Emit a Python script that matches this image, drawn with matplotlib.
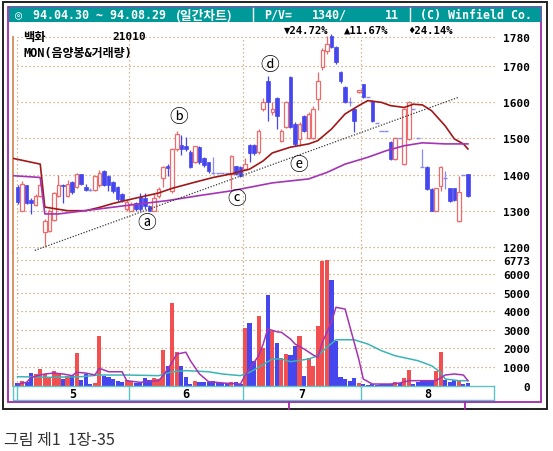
import matplotlib
matplotlib.use("Agg")
import matplotlib.pyplot as plt
from matplotlib.patches import Rectangle
from matplotlib.lines import Line2D

# ---------------- data ----------------
opens = [1366, 1300, 1370, 1330, 1315, 1342, 1241, 1244, 1275, 1341,
         1372, 1341, 1379, 1366, 1401, 1365, 1358, 1358, 1370, 1410,
         1395, 1380, 1365, 1345, 1305, 1300, 1320, 1338, 1335, 1312,
         1300, 1340, 1390, 1425, 1354, 1470, 1482, 1478, 1462, 1436,
         1476, 1445, 1434, 1405, 1405, 1405, 1405, 1401, 1423, 1421,
         1415, 1481, 1481, 1462, 1581, 1659, 1573, 1612, 1493, 1532,
         1670, 1540, 1498, 1562, 1501, 1501, 1609, 1698, 1742, 1784,
         1753, 1684, 1642, 1600, 1582, 1628, 1650, 1614, 1604, 1543,
         1521, 1521, 1490, 1443, 1501, 1429, 1498, 1582, 1501, 1420,
         1421, 1360, 1300, 1368, 1390, 1362, 1362, 1271, 1400, 1401]
highs = [1372, 1382, 1372, 1334, 1345, 1380, 1278, 1305, 1352, 1400,
         1374, 1385, 1382, 1404, 1403, 1375, 1362, 1400, 1412, 1412,
         1398, 1382, 1368, 1350, 1330, 1325, 1325, 1350, 1350, 1315,
         1345, 1365, 1425, 1430, 1475, 1520, 1510, 1505, 1468, 1480,
         1480, 1448, 1436, 1450, 1405, 1405, 1405, 1455, 1425, 1425,
         1445, 1485, 1484, 1525, 1612, 1673, 1600, 1615, 1525, 1605,
         1672, 1545, 1545, 1566, 1572, 1590, 1684, 1750, 1784, 1790,
         1755, 1686, 1645, 1615, 1585, 1635, 1652, 1614, 1606, 1543,
         1521, 1521, 1492, 1503, 1501, 1584, 1603, 1582, 1501, 1470,
         1423, 1362, 1364, 1425, 1410, 1364, 1364, 1396, 1400, 1403]
lows = [1318, 1298, 1318, 1290, 1312, 1338, 1202, 1240, 1272, 1338,
        1320, 1338, 1345, 1362, 1372, 1355, 1355, 1355, 1365, 1368,
        1355, 1350, 1326, 1325, 1300, 1298, 1300, 1300, 1305, 1298,
        1298, 1335, 1365, 1395, 1350, 1465, 1455, 1465, 1418, 1432,
        1430, 1420, 1405, 1402, 1405, 1405, 1405, 1360, 1398, 1394,
        1412, 1435, 1455, 1458, 1575, 1548, 1565, 1526, 1490, 1528,
        1528, 1478, 1478, 1518, 1498, 1498, 1580, 1690, 1735, 1750,
        1705, 1655, 1598, 1590, 1518, 1626, 1612, 1614, 1546, 1543,
        1521, 1521, 1441, 1441, 1501, 1427, 1496, 1582, 1501, 1420,
        1358, 1298, 1298, 1355, 1360, 1324, 1328, 1268, 1400, 1338]
closes = [1324, 1375, 1322, 1322, 1342, 1372, 1271, 1300, 1350, 1371,
          1368, 1375, 1351, 1401, 1375, 1358, 1358, 1395, 1405, 1372,
          1372, 1355, 1332, 1330, 1323, 1318, 1305, 1305, 1312, 1300,
          1335, 1360, 1421, 1418, 1470, 1512, 1470, 1470, 1421, 1478,
          1436, 1426, 1410, 1405, 1405, 1405, 1405, 1451, 1401, 1396,
          1430, 1459, 1459, 1521, 1601, 1601, 1582, 1562, 1521, 1601,
          1532, 1484, 1540, 1521, 1568, 1582, 1659, 1745, 1762, 1753,
          1712, 1659, 1601, 1600, 1548, 1633, 1614, 1614, 1548, 1543,
          1521, 1521, 1443, 1501, 1501, 1582, 1601, 1582, 1501, 1420,
          1360, 1300, 1362, 1421, 1390, 1326, 1330, 1351, 1400, 1340]
volumes = [145, 235, 180, 680, 630, 900, 630, 450, 770, 680,
           360, 540, 590, 1740, 300, 630, 90, 130, 2690, 540,
           450, 360, 270, 220, 320, 270, 150, 180, 400, 320,
           400, 360, 1920, 1075, 4430, 1800, 1040, 480, 90, 250,
           180, 220, 220, 270, 180, 145, 145, 220, 180, 100,
           3085, 3380, 1345, 3730, 2010, 4875, 2930, 2300, 1470, 1700,
           1650, 2150, 2690, 540, 1470, 1040, 3190, 6720, 6773, 5700,
           2420, 450, 360, 270, 400, 120, 90, 50, 90, 50,
           90, 90, 110, 180, 120, 400, 860, 100, 180, 270,
           300, 270, 800, 1830, 320, 180, 300, 300, 90, 130]

# price moving averages (trading-day index, value)
ma_short_day = [-1, 5, 6, 11, 15, 18, 21, 25, 31, 34, 39, 43, 47, 51, 54, 56,
                60, 64, 66, 69, 72, 75, 77, 80, 82, 85, 87, 89, 91, 94, 96, 98, 99]
ma_short_val = [1445, 1429, 1310, 1300, 1300, 1309, 1320, 1332, 1349, 1362, 1379,
                1392, 1402, 1415, 1438, 1460, 1476, 1485, 1494, 1526, 1568, 1591,
                1605, 1600, 1591, 1586, 1595, 1593, 1577, 1535, 1499, 1485, 1471]
ma_long_day = [-1, 5, 6, 9, 18, 25, 33, 40, 47, 56, 64, 68, 72, 77, 81, 85, 89, 94, 99]
ma_long_val = [1397, 1392, 1291, 1291, 1305, 1316, 1328, 1342, 1355, 1377, 1388,
               1406, 1429, 1448, 1466, 1480, 1488, 1485, 1485]

# volume moving averages
vma_short_day = [0, 2, 3, 6, 8, 10, 12, 13, 15, 17, 18, 20, 23, 24, 27, 31, 32, 34,
                 35, 37, 38, 40, 42, 46, 49, 50, 53, 54, 55, 57, 58, 60, 61, 63, 65,
                 66, 67, 69, 70, 72, 73, 75, 76, 78, 82, 84, 86, 92, 94, 96, 98, 99]
vma_short_val = [90, 180, 450, 630, 680, 630, 540, 720, 680, 575, 935, 750, 750,
                 270, 180, 270, 540, 1260, 1700, 1800, 1345, 630, 215, 130, 90, 540,
                 1610, 2240, 3050, 2900, 2870, 2510, 2240, 1970, 1650, 1525, 2330,
                 3410, 4215, 4120, 3225, 1435, 360, 90, 90, 145, 270, 270, 575, 630,
                 575, 270]
vma_long_day = [0, 7, 14, 18, 24, 31, 34, 37, 42, 45, 49, 51, 53, 56, 58, 60, 64,
                66, 68, 70, 74, 77, 80, 83, 88, 91, 93, 94, 97, 99]
vma_long_val = [485, 450, 485, 575, 575, 540, 750, 810, 750, 630, 540, 720, 990,
                1435, 1435, 1290, 1435, 1610, 2065, 2470, 2470, 2240, 1880, 1610,
                1345, 1075, 720, 360, 270, 270]

# support trend line
trend_day = [3.8, 96.9]
trend_val = [1190, 1614]

# labelled points
mark_text = ["ⓐ", "ⓑ", "ⓒ", "ⓓ", "ⓔ"]
mark_day = [28.5, 35.5, 48.2, 55.5, 61.9]
mark_val = [1266, 1560, 1335, 1704, 1427]

month_names = ["5", "6", "7", "8"]
month_first_day = [0, 25, 50, 76]
price_ticks = [1200, 1300, 1400, 1500, 1600, 1700, 1780]
vol_ticks = [0, 1000, 2000, 3000, 4000, 5000, 6000, 6773]

# ---------------- style ----------------
UP_LINE = "#ef6a6a"
UP_BAR = "#f25050"
DOWN = "#4646ee"
DOJI = "#8a8af2"
GRID = "#c9a176"
TEAL = "#009999"
PURPLE = "#a028a8"
MA_RED = "#a01818"
MA_PURPLE = "#a434b4"
VMA_TEAL = "#3cb4b4"
MONO = ["DejaVu Sans Mono", "DejaVu Sans", "Noto Sans CJK KR"]
KR = ["Noto Sans CJK KR", "DejaVu Sans"]

W, H = 553, 452
fig = plt.figure(figsize=(W / 100, H / 100), dpi=100)
fig.patch.set_facecolor("white")


def rect(l, t, r, b):
    return [l / W, 1 - b / H, (r - l) / W, (b - t) / H]


def fx(px):
    return px / W


def fy(py):
    return 1 - py / H


XLIM = (-0.99, 104.95)
ax_p = fig.add_axes(rect(13, 30, 495, 254))
ax_v = fig.add_axes(rect(13, 254, 495, 386.7))
ax_b = fig.add_axes(rect(13, 386.7, 494, 400.7))

for ax in (ax_p, ax_v):
    ax.set_xlim(*XLIM)
    ax.set_facecolor("none")
    for s in ("top", "right", "bottom"):
        ax.spines[s].set_visible(False)
    ax.spines["left"].set_color("#d08c5c")
    ax.spines["left"].set_linewidth(1.3)
    ax.set_xticks([])
    ax.yaxis.tick_right()
    ax.tick_params(axis="y", length=0, pad=25.2)

ax_p.set_ylim(1182.8, 1803.3)
ax_v.set_ylim(0, 7134)
ax_p.spines["left"].set_bounds(1182.8, 1782)

edges = [max(d - 0.5, -0.1) for d in month_first_day]
dot = (0, (1, 2.2))
ax_p.hlines(price_ticks, -0.1, XLIM[1], colors=GRID, linestyles=dot, linewidth=0.9, zorder=0)
ax_v.hlines(vol_ticks[1:], -0.1, XLIM[1], colors=GRID, linestyles=dot, linewidth=0.9, zorder=0)
ax_p.vlines(edges, 1182.8, 1782, colors=GRID, linestyles=dot, linewidth=0.9, zorder=0)
ax_v.vlines(edges, 0, 7134, colors=GRID, linestyles=dot, linewidth=0.9, zorder=0)

# ---------------- candles ----------------
days = list(range(len(closes)))
for i in days:
    o, h, l, c = opens[i], highs[i], lows[i], closes[i]
    if c > o:
        ax_p.vlines(i, l, o, colors=UP_LINE, linewidth=0.9, zorder=2)
        ax_p.vlines(i, c, h, colors=UP_LINE, linewidth=0.9, zorder=2)
        ax_p.bar(i, c - o, bottom=o, width=0.78, facecolor="white",
                 edgecolor=UP_LINE, linewidth=0.9, zorder=3)
    elif c < o:
        ax_p.vlines(i, l, h, colors=DOWN, linewidth=0.9, zorder=2)
        ax_p.bar(i, o - c, bottom=c, width=0.78, facecolor=DOWN,
                 edgecolor=DOWN, linewidth=0.5, zorder=3)
    else:
        ax_p.vlines(i, l, h, colors=DOJI, linewidth=0.9, zorder=2)
        ax_p.hlines(o, i - 0.45, i + 0.45, colors=DOJI, linewidth=1.0, zorder=3)

ax_p.plot(ma_short_day, ma_short_val, color=MA_RED, linewidth=1.2, zorder=4)
ax_p.plot(ma_long_day, ma_long_val, color=MA_PURPLE, linewidth=1.2, zorder=4)
ax_p.plot(trend_day, trend_val, color="#383838", linewidth=0.9,
          linestyle=(0, (1, 1.3)), zorder=5)

for t, d, v in zip(mark_text, mark_day, mark_val):
    ax_p.text(d, v, t, family=KR, fontsize=13.5, ha="center", va="center",
              color="black", zorder=6)

# ---------------- volume ----------------
vol_colors = [UP_BAR if closes[i] > opens[i] else DOWN for i in days]
ax_v.bar(days, volumes, width=0.92, color=vol_colors, linewidth=0, zorder=2)
ax_v.plot(vma_long_day, vma_long_val, color=VMA_TEAL, linewidth=1.1, zorder=3)
ax_v.plot(vma_short_day, vma_short_val, color=MA_PURPLE, linewidth=1.1, zorder=4)

# ---------------- right-hand labels ----------------
ax_p.set_yticks(price_ticks)
ax_p.set_yticklabels([str(v) for v in price_ticks])
ax_v.set_yticks(vol_ticks)
ax_v.set_yticklabels([str(v) for v in vol_ticks])
for ax in (ax_p, ax_v):
    for lab in ax.get_yticklabels():
        lab.set_fontfamily(MONO)
        lab.set_fontweight("bold")
        lab.set_fontsize(8)
        lab.set_horizontalalignment("right")

# ---------------- month band ----------------
band_right = 104.73
ax_b.set_xlim(XLIM[0], band_right)
ax_b.set_ylim(0, 1)
ax_b.set_xticks([])
ax_b.set_yticks([])
for s in ax_b.spines.values():
    s.set_color("#5cc4c4")
    s.set_linewidth(1.0)
ax_b.vlines(edges, 0, 1, colors="#5cc4c4", linewidth=1.0)
bounds = edges + [band_right]
for k, name in enumerate(month_names):
    ax_b.text((bounds[k] + bounds[k + 1]) / 2, 0.45, name, ha="center", va="center",
              family=MONO, fontweight="bold", fontsize=8.5, color="black")

# ---------------- frame and header ----------------
fig.add_artist(Rectangle((fx(3), fy(410)), fx(544), 407 / H, transform=fig.transFigure,
                         fill=False, edgecolor="#202020", linewidth=1.4))
fig.add_artist(Rectangle((fx(8), fy(403)), fx(533), 395 / H, transform=fig.transFigure,
                         fill=False, edgecolor=PURPLE, linewidth=1.3))
fig.add_artist(Rectangle((fx(8.5), fy(23)), fx(532.5), 15 / H, transform=fig.transFigure,
                         facecolor=TEAL, edgecolor="none"))
for xp in (252.5, 409.5):
    fig.add_artist(Line2D([fx(xp), fx(xp)], [fy(8.5), fy(23)], transform=fig.transFigure,
                          color="white", linewidth=1.0))
for xp in (289, 464.5):
    fig.add_artist(Line2D([fx(xp), fx(xp)], [fy(403), fy(410)], transform=fig.transFigure,
                          color=PURPLE, linewidth=1.3))

hdr_y = fy(15.5)
fig.text(fx(15), hdr_y, "◎", family=MONO, color="white", fontsize=8.5, va="center")
fig.text(fx(33), hdr_y, "94.04.30 ~ 94.08.29", family=MONO, fontweight="bold",
         color="white", fontsize=8.4, va="center")
fig.text(fx(176), hdr_y, "(일간차트)", family=KR, fontweight="bold",
         color="white", fontsize=9.2, va="center")
fig.text(fx(264), hdr_y, "P/V=", family=MONO, fontweight="bold",
         color="white", fontsize=8.4, va="center")
fig.text(fx(312), hdr_y, "1340/", family=MONO, fontweight="bold",
         color="white", fontsize=8.4, va="center")
fig.text(fx(385), hdr_y, "11", family=MONO, fontweight="bold",
         color="white", fontsize=8.4, va="center")
fig.text(fx(420), hdr_y, "(C) Winfield Co.", family=MONO, fontweight="bold",
         color="white", fontsize=8.4, va="center")

row_y = fy(31)
for xp, s in ((284, "▼24.72%"), (344, "▲11.67%"), (408, "♦24.14%")):
    fig.text(fx(xp), row_y, s, family=MONO, fontweight="bold", color="black",
             fontsize=7.6, va="center")

fig.text(fx(23), fy(37.5), "백화", family=KR, fontweight="bold", color="black",
         fontsize=8.8, va="center")
fig.text(fx(112), fy(37.5), "21010", family=MONO, fontweight="bold", color="black",
         fontsize=8, va="center")
fig.text(fx(23), fy(53), "MON(음양봉&거래량)", family=MONO, fontweight="bold",
         color="black", fontsize=8.6, va="center")

fig.text(fx(3.5), fy(441), "그림 제1  1장-35", family=KR, color="#333333",
         fontsize=11.5, va="center")

fig.savefig("out.png", dpi=100, facecolor="white")
